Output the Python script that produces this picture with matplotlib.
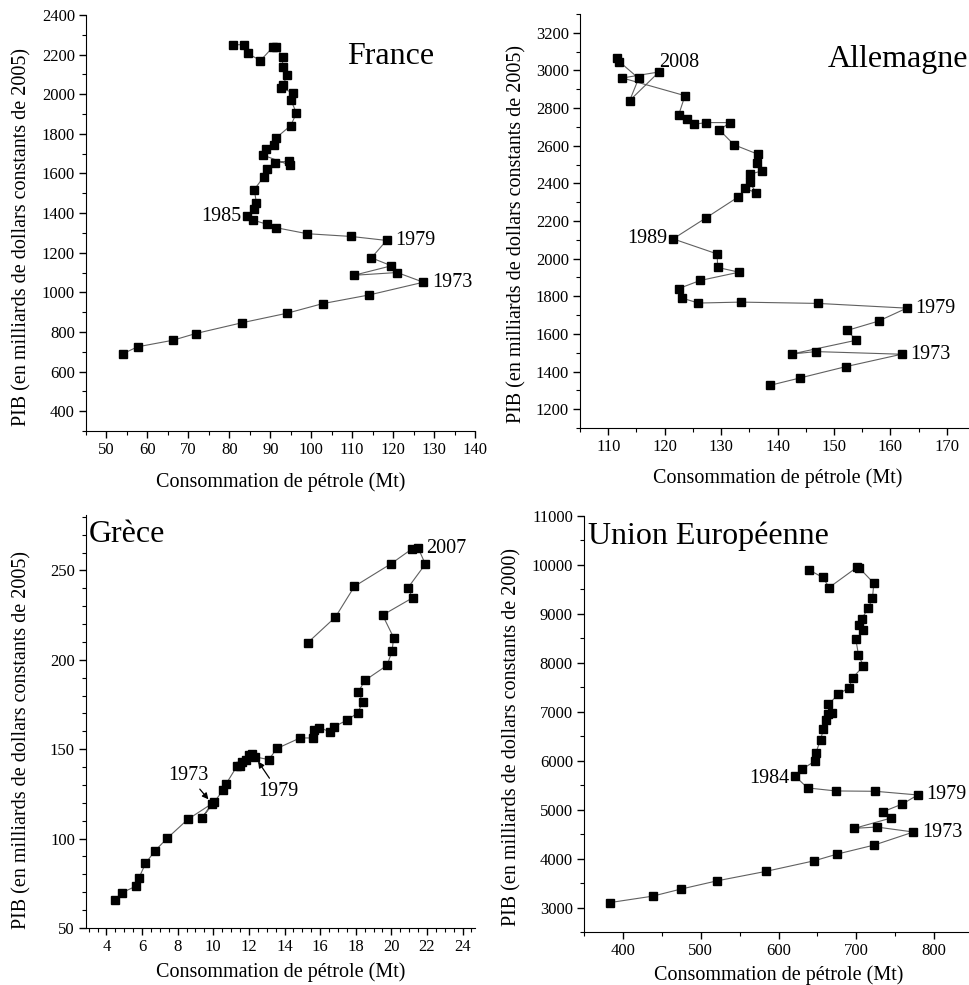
import matplotlib
matplotlib.use('Agg')
import matplotlib.pyplot as plt
from matplotlib.ticker import MultipleLocator

plt.rcParams['font.family'] = ['Liberation Serif', 'DejaVu Serif']

# France (1965 -> 2012)
fr_conso = [54.0, 57.6, 66.2, 71.8, 83.0, 94.2, 102.8, 114.2, 127.4, 121.0, 110.4, 119.6, 114.7,
            118.4, 109.8, 99.0, 91.5, 89.3, 85.9, 84.4, 86.1, 86.6, 86.1, 88.4, 89.3, 91.1, 94.5,
            94.7, 88.2, 89.0, 90.8, 91.5, 95.0, 96.4, 95.0, 95.5, 92.7, 93.2, 94.1, 93.0, 93.0,
            91.5, 90.7, 87.6, 84.5, 83.7, 81.0]
fr_pib = [690, 725, 758, 792, 846, 895, 943, 987, 1051, 1100, 1086, 1134, 1174,
          1262, 1282, 1296, 1326, 1343, 1364, 1384, 1419, 1452, 1519, 1583, 1622, 1654, 1663,
          1643, 1693, 1724, 1744, 1781, 1842, 1905, 1972, 2008, 2031, 2048, 2099, 2136, 2189,
          2239, 2239, 2170, 2206, 2250, 2250]
fr_labels = [('1973', 8), ('1979', 13), ('1985', 19)]

# Allemagne (1970 -> 2012)
de_conso = [138.7, 144.0, 152.1, 162.0, 146.8, 142.5, 153.9, 152.4, 157.9, 162.9, 147.2, 133.5,
            126.0, 123.1, 122.5, 126.3, 133.2, 129.4, 129.3, 121.5, 127.3, 133.0, 134.3, 136.2,
            135.1, 135.2, 137.3, 136.4, 136.5, 132.3, 129.7, 131.6, 127.4, 125.2, 124.0, 122.5,
            123.6, 112.5, 119.0, 113.8, 115.4, 112.0, 111.5]
de_pib = [1327, 1366, 1426, 1492, 1506, 1493, 1566, 1619, 1668, 1737, 1762, 1769,
          1764, 1790, 1841, 1884, 1928, 1953, 2025, 2105, 2216, 2327, 2373, 2350,
          2405, 2449, 2467, 2507, 2555, 2605, 2684, 2723, 2723, 2714, 2744, 2765,
          2866, 2960, 2992, 2840, 2958, 3046, 3067]
de_labels = [('1973', 3), ('1979', 9), ('1989', 19), ('2008', 38)]

# Grece
gr_conso = [4.47, 4.86, 5.68, 5.83, 6.19, 6.71, 7.40, 8.56, 9.93, 9.36, 10.05, 10.54, 10.73,
            11.33, 11.51, 11.63, 11.85, 12.00, 12.17, 12.34, 13.12, 13.57, 14.88, 15.59, 15.68,
            15.96, 16.56, 16.77, 17.50, 18.11, 18.39, 18.15, 18.52, 19.76, 20.04, 20.13, 19.51,
            21.20, 20.92, 21.91, 21.51, 21.14, 19.98, 17.93, 16.86, 15.31]
gr_pib = [65.5, 69.7, 73.5, 78.1, 86.1, 93.0, 100.1, 110.7, 119.6, 111.6, 120.3, 127.1, 130.8,
          140.5, 140.5, 142.9, 143.9, 146.6, 147.2, 145.7, 144.2, 150.4, 156.3, 156.3, 161.0,
          162.1, 159.7, 162.5, 166.2, 170.3, 176.4, 182.2, 188.5, 196.9, 204.9, 212.4, 225.0,
          234.7, 240.1, 253.5, 262.5, 261.9, 253.7, 241.1, 223.9, 209.6]
gr_labels = [('2007', 40)]
gr_arrows = [('1973', 8), ('1979', 19)]

# Union Europeenne
ue_conso = [383.7, 438.1, 474.1, 521.2, 583.3, 646.2, 675.4, 722.9, 773.4, 726.3, 697.6, 744.8,
            734.5, 759.3, 779.0, 724.6, 673.7, 637.3, 621.0, 630.0, 647.5, 648.0, 654.0, 657.8,
            661.2, 663.4, 668.5, 664.2, 676.7, 690.4, 695.5, 709.2, 702.8, 699.4, 709.2, 703.6,
            707.1, 715.6, 720.8, 722.5, 703.6, 700.6, 665.1, 657.0, 639.8]
ue_pib = [3102, 3232, 3375, 3546, 3737, 3956, 4092, 4276, 4543, 4645, 4618, 4829,
          4959, 5116, 5300, 5375, 5382, 5444, 5689, 5826, 5997, 6160, 6427, 6645,
          6836, 6959, 6980, 7150, 7355, 7491, 7696, 7935, 8160, 8481, 8666, 8782,
          8898, 9130, 9321, 9628, 9942, 9949, 9539, 9744, 9894]
ue_labels = [('1973', 8), ('1979', 14), ('1984', 18)]

W, H = 969, 985
fig = plt.figure(figsize=(W / 100, H / 100), dpi=100)


def make_axes(l, r, t, b):
    return fig.add_axes([l / W, 1 - b / H, (r - l) / W, (b - t) / H])


def panel(ax, xs, ys, xlim, ylim, xmaj, xmin, ymin, yticks, ylab, ylab_x, ylab_y, xlab_y):
    ax.plot(xs, ys, '-', color='#606060', lw=0.8, zorder=2)
    ax.plot(xs, ys, 's', color='black', ms=6.2, zorder=3)
    ax.set_xlim(*xlim)
    ax.set_ylim(*ylim)
    ax.xaxis.set_major_locator(MultipleLocator(xmaj))
    ax.xaxis.set_minor_locator(MultipleLocator(xmin))
    ax.set_yticks(yticks)
    ax.yaxis.set_minor_locator(MultipleLocator(ymin))
    for s in ['top', 'right']:
        ax.spines[s].set_visible(False)
    ax.tick_params(which='major', direction='out', length=5, width=1, labelsize=12, pad=3)
    ax.tick_params(which='minor', direction='out', length=3, width=0.8)
    ax.set_xlabel('Consommation de pétrole (Mt)', fontsize=14.5)
    ax.xaxis.set_label_coords(0.5, xlab_y)
    ax.set_ylabel(ylab, fontsize=14.5)
    ax.yaxis.set_label_coords(ylab_x, ylab_y)


def label_right(ax, xs, ys, labels):
    for txt, i in labels:
        ax.annotate(txt, (xs[i], ys[i]), xytext=(6, 0), textcoords='offset points',
                    ha='left', va='center', fontsize=14.5)


def label_left(ax, xs, ys, txt, i, dy=0):
    ax.annotate(txt, (xs[i], ys[i]), xytext=(-4, dy), textcoords='offset points',
                ha='right', va='center', fontsize=14.5)


ylab05 = 'PIB (en milliards de dollars constants de 2005)'

# France
ax = make_axes(86, 475, 15, 431)
panel(ax, fr_conso, fr_pib, (45, 140), (300, 2400), 10, 5, 100,
      range(400, 2401, 200), ylab05, -0.14, 0.466, -0.098)
label_right(ax, fr_conso, fr_pib, fr_labels[:2])
label_left(ax, fr_conso, fr_pib, *fr_labels[2])
ax.text(0.672, 0.9, 'France', transform=ax.transAxes, fontsize=23, va='center', ha='left')

# Allemagne
ax = make_axes(580, 975, 14, 428)
panel(ax, de_conso, de_pib, (105, 175), (1100, 3300), 10, 5, 100,
      range(1200, 3201, 200), ylab05, -0.135, 0.469, -0.098)
label_right(ax, de_conso, de_pib, de_labels[:2])
label_left(ax, de_conso, de_pib, *de_labels[2])
t, i = de_labels[3]
ax.annotate(t, (de_conso[i], de_pib[i]), xytext=(0, 7), textcoords='offset points',
            ha='left', va='center', fontsize=14.5)
ax.text(0.628, 0.889, 'Allemagne', transform=ax.transAxes, fontsize=23, va='center', ha='left')

# Grece
ax = make_axes(86, 475, 515, 928)
panel(ax, gr_conso, gr_pib, (2.85, 24.7), (50, 281), 2, 0.5, 10,
      range(50, 251, 50), ylab05, -0.14, 0.455, -0.082)
label_right(ax, gr_conso, gr_pib, gr_labels)
offs = [(-17, 20), (17, -25)]
for (t, i), o in zip(gr_arrows, offs):
    ax.annotate(t, (gr_conso[i], gr_pib[i]), xytext=o, textcoords='offset points',
                ha='center', va='center', fontsize=14.5,
                arrowprops=dict(arrowstyle='-|>', color='black', lw=0.9,
                                shrinkA=1, shrinkB=4, mutation_scale=9))
ax.text(0.008, 0.952, 'Grèce', transform=ax.transAxes, fontsize=23, va='center', ha='left')

# Union Europeenne
ax = make_axes(584, 973, 516, 932)
panel(ax, ue_conso, ue_pib, (350, 850), (2500, 11000), 100, 50, 500,
      range(3000, 11001, 1000), 'PIB (en milliards de dollars constants de 2000)',
      -0.16, 0.469, -0.08)
label_right(ax, ue_conso, ue_pib, ue_labels[:2])
label_left(ax, ue_conso, ue_pib, *ue_labels[2], dy=-2)
ax.text(0.01, 0.952, 'Union Européenne', transform=ax.transAxes, fontsize=23, va='center', ha='left')

fig.savefig('out.png', dpi=100)
